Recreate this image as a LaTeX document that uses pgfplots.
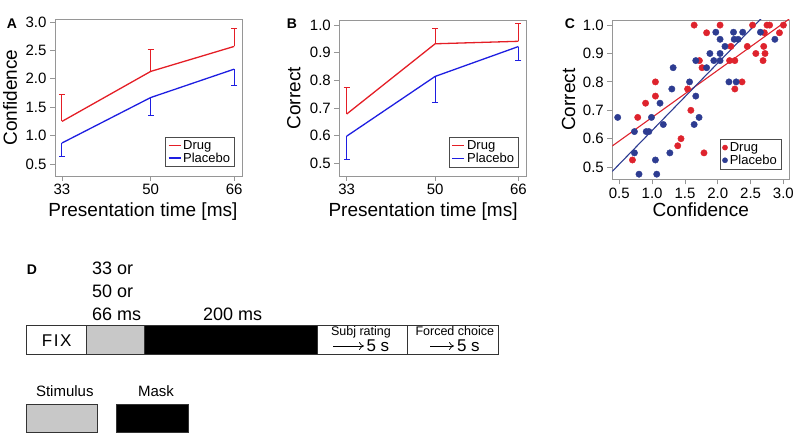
\documentclass[border=0pt]{standalone}
\usepackage{pgfplots}
\pgfplotsset{compat=1.18}
\usepackage{fontspec}
\setmainfont{Liberation Sans}
\usetikzlibrary{arrows.meta}

\definecolor{drugred}{RGB}{228,30,38}
\definecolor{plblue}{RGB}{30,30,225}
\definecolor{dotred}{RGB}{222,35,45}
\definecolor{dotblue}{RGB}{45,60,145}
\definecolor{framegray}{RGB}{150,150,150}
\definecolor{stimgray}{RGB}{200,200,200}

\pgfplotsset{
  panel/.style={
    scale only axis,
    anchor=south west,
    axis line style={framegray, line width=0.8pt},
    tick style={framegray, line width=0.8pt},
    major tick length=5pt,
    tick align=outside,
    xtick pos=bottom, ytick pos=left,
    ticklabel style={font=\fontsize{15}{17}\selectfont},
    yticklabel style={/pgf/number format/.cd, fixed, fixed zerofill, precision=1},
    /pgf/number format/assume math mode=true,
    label style={font=\fontsize{19}{21}\selectfont},
    legend style={font=\fontsize{13}{14}\selectfont, draw=none,
      inner xsep=2pt, inner ysep=1pt, row sep=-2pt},
    legend cell align=left,
  },
  dotpanel/.style={
    legend image code/.code={\fill[##1] (4pt,0pt) circle (2.6pt);},
  },
  druglegend/.style={legend image code/.code={\draw[draw=drugred, line width=1.3pt] (0pt,0pt) -- (12pt,0pt);}},
  pllegend/.style={legend image code/.code={\draw[draw=plblue, line width=1.3pt] (0pt,0pt) -- (12pt,0pt);}},
}

\begin{document}
\begin{tikzpicture}
\useasboundingbox (0,0) rectangle (797pt,435pt);

% panel A
\begin{axis}[panel, at={(55pt,259pt)}, width=187pt, height=157pt,
  xmin=31.66, xmax=67.5, ymin=0.289, ymax=3.053,
  xtick={33,50,66}, ytick={0.5,1.0,1.5,2.0,2.5,3.0},
  xlabel={Presentation time [ms]}, ylabel={Confidence},
  xlabel style={at={(axis description cs:0.47,0)}, anchor=base, yshift=-40.7pt},
  ylabel style={at={(axis description cs:-0.24,0.5)}, anchor=center},
  legend style={at={(0.959,0.059)}, anchor=south east, name=legA}]
\addplot[drugred, line width=1.3pt, mark=none, druglegend,
  error bars/.cd, y dir=plus, y explicit, error bar style={line width=1pt},
  error mark options={rotate=90, drugred, mark size=3pt, line width=1pt}]
  coordinates {(33,1.25) +- (0,0.47) (50,2.13) +- (0,0.39) (66,2.57) +- (0,0.32)};
\addlegendentry{Drug}
\addplot[plblue, line width=1.3pt, mark=none, pllegend,
  error bars/.cd, y dir=minus, y explicit, error bar style={line width=1pt},
  error mark options={rotate=90, plblue, mark size=3pt, line width=1pt}]
  coordinates {(33,0.87) +- (0,0.23) (50,1.67) +- (0,0.31) (66,2.17) +- (0,0.29)};
\addlegendentry{Placebo}
\end{axis}
\draw[black!70, line width=0.8pt] (legA.south west) rectangle (legA.north east);

% panel B
\begin{axis}[panel, at={(339.3pt,259pt)}, width=187.4pt, height=155.3pt,
  xmin=31.58, xmax=67.6, ymin=0.454, ymax=1.0155,
  xtick={33,50,66}, ytick={0.5,0.6,0.7,0.8,0.9,1.0},
  xlabel={Presentation time [ms]}, ylabel={Correct},
  xlabel style={at={(axis description cs:0.447,0)}, anchor=base, yshift=-40.7pt},
  ylabel style={at={(axis description cs:-0.242,0.5)}, anchor=center},
  legend style={at={(0.955,0.058)}, anchor=south east, name=legB}]
\addplot[drugred, line width=1.3pt, mark=none, druglegend,
  error bars/.cd, y dir=plus, y explicit, error bar style={line width=1pt},
  error mark options={rotate=90, drugred, mark size=3pt, line width=1pt}]
  coordinates {(33,0.678) +- (0,0.097) (50,0.932) +- (0,0.055) (66,0.941) +- (0,0.065)};
\addlegendentry{Drug}
\addplot[plblue, line width=1.3pt, mark=none, pllegend,
  error bars/.cd, y dir=minus, y explicit, error bar style={line width=1pt},
  error mark options={rotate=90, plblue, mark size=3pt, line width=1pt}]
  coordinates {(33,0.598) +- (0,0.083) (50,0.814) +- (0,0.094) (66,0.922) +- (0,0.052)};
\addlegendentry{Placebo}
\end{axis}
\draw[black!70, line width=0.8pt] (legB.south west) rectangle (legB.north east);

% panel C
\begin{axis}[panel, dotpanel, at={(612.3pt,255.7pt)}, width=177pt, height=159.3pt,
  xmin=0.393, xmax=3.09, ymin=0.457, ymax=1.018,
  xtick={0.5,1.0,1.5,2.0,2.5,3.0}, ytick={0.5,0.6,0.7,0.8,0.9,1.0},
  xticklabel style={/pgf/number format/.cd, fixed, fixed zerofill, precision=1},
  xlabel={Confidence}, ylabel={Correct},
  xlabel style={at={(axis description cs:0.5,0)}, anchor=base, yshift=-37.5pt},
  ylabel style={at={(axis description cs:-0.247,0.5)}, anchor=center},
  legend style={at={(0.953,0.065)}, anchor=south east, name=legC}]
\addplot[only marks, mark=*, mark size=3.2pt, dotred, mark options={draw=dotred, fill=dotred}] coordinates {
  (1.64,1.0) (2.035,1.0) (2.53,1.0) (2.75,1.0) (2.79,1.0) (3.0,1.0)
  (1.83,0.973) (2.71,0.973) (2.94,0.973)
  (2.20,0.925) (2.45,0.925) (2.70,0.925)
  (2.58,0.90) (2.72,0.90)
  (1.72,0.875) (2.18,0.875) (2.26,0.875) (2.69,0.875)
  (1.76,0.85)
  (1.05,0.80) (2.37,0.80)
  (1.54,0.775) (2.26,0.775)
  (1.05,0.75)
  (0.90,0.725)
  (1.59,0.70)
  (0.78,0.675)
  (1.44,0.60)
  (1.39,0.575)
  (1.79,0.55)
  (0.70,0.525)};
\addlegendentry{Drug}
\addplot[only marks, mark=*, mark size=3.2pt, dotblue, mark options={draw=dotblue, fill=dotblue}] coordinates {
  (1.97,0.975) (2.24,0.975) (2.38,0.975) (2.65,0.975)
  (2.035,0.95) (2.25,0.95) (2.31,0.95) (2.87,0.95)
  (2.11,0.925)
  (1.88,0.90) (2.035,0.90)
  (1.665,0.875) (1.94,0.875) (2.035,0.875)
  (1.32,0.85) (1.83,0.85)
  (1.57,0.80) (2.17,0.80) (2.28,0.80)
  (1.30,0.775)
  (1.665,0.75)
  (1.12,0.725)
  (0.475,0.675) (0.99,0.675) (1.715,0.675)
  (1.17,0.65) (1.64,0.65)
  (0.73,0.625) (0.91,0.625) (0.95,0.625)
  (0.73,0.55) (1.27,0.55)
  (1.05,0.525)
  (0.80,0.475) (1.07,0.475)};
\addlegendentry{Placebo}
\addplot[dotred, line width=1.1pt, forget plot] coordinates {(0.3,0.559) (3.2,1.040)};
\addplot[dotblue, line width=1.1pt, forget plot] coordinates {(0.3,0.463) (2.8,1.056)};
\end{axis}
\draw[black!70, line width=0.8pt] (legC.south west) rectangle (legC.north east);

% overlay in image pixels: panel letters and schematic D
\begin{axis}[at={(0pt,0pt)}, anchor=south west, scale only axis,
  width=797pt, height=435pt, xmin=0, xmax=797, ymin=0, ymax=435,
  y dir=reverse, hide axis, clip=false]
\node[font=\bfseries\fontsize{14}{14}\selectfont] at (axis cs:12,24) {A};
\node[font=\bfseries\fontsize{14}{14}\selectfont] at (axis cs:292,24) {B};
\node[font=\bfseries\fontsize{14}{14}\selectfont] at (axis cs:570,24) {C};
\node[font=\bfseries\fontsize{14}{14}\selectfont] at (axis cs:32,270) {D};
% trial boxes
\addplot[draw=black!80, line width=0.8pt, fill=white] coordinates {(26.7,325) (86.7,325) (86.7,354.3) (26.7,354.3)} -- cycle;
\addplot[draw=black!80, line width=0.8pt, fill=stimgray] coordinates {(86.7,325) (144,325) (144,354.3) (86.7,354.3)} -- cycle;
\addplot[draw=black!80, line width=0.8pt, fill=black] coordinates {(144,325) (317.3,325) (317.3,354.3) (144,354.3)} -- cycle;
\addplot[draw=black!80, line width=0.8pt, fill=white] coordinates {(317.3,325) (407.3,325) (407.3,354.3) (317.3,354.3)} -- cycle;
\addplot[draw=black!80, line width=0.8pt, fill=white] coordinates {(407.3,325) (498.3,325) (498.3,354.3) (407.3,354.3)} -- cycle;
% legend boxes
\addplot[draw=black!80, line width=0.8pt, fill=stimgray] coordinates {(26.7,404.3) (97.3,404.3) (97.3,432.3) (26.7,432.3)} -- cycle;
\addplot[draw=black!80, line width=0.8pt, fill=black] coordinates {(116.7,404.3) (188.3,404.3) (188.3,432.3) (116.7,432.3)} -- cycle;
% arrows
\addplot[black, line width=0.7pt, -{To[length=5pt,width=8pt]}] coordinates {(333,346) (364,346)};
\addplot[black, line width=0.7pt, -{To[length=5pt,width=8pt]}] coordinates {(430,346) (454,346)};
% texts
\node[anchor=base west, font=\fontsize{18}{18}\selectfont] at (axis cs:88.5,275) {33 or};
\node[anchor=base west, font=\fontsize{18}{18}\selectfont] at (axis cs:88.5,298) {50 or};
\node[anchor=base west, font=\fontsize{18}{18}\selectfont] at (axis cs:88.5,320.7) {66 ms};
\node[anchor=base west, font=\fontsize{18}{18}\selectfont] at (axis cs:199.5,320.7) {200 ms};
\node[anchor=base, font=\fontsize{17}{17}\selectfont] at (axis cs:56.7,346) {F\hspace{1.5pt}I\hspace{1.5pt}X};
\node[anchor=base west, font=\fontsize{12.5}{12.5}\selectfont] at (axis cs:327.5,335.5) {Subj rating};
\node[anchor=base west, font=\fontsize{17}{17}\selectfont] at (axis cs:363,351) {5 s};
\node[anchor=base west, font=\fontsize{12.5}{12.5}\selectfont] at (axis cs:412,335.5) {Forced choice};
\node[anchor=base west, font=\fontsize{17}{17}\selectfont] at (axis cs:453.5,351) {5 s};
\node[anchor=base west, font=\fontsize{15}{15}\selectfont] at (axis cs:32.5,396.7) {Stimulus};
\node[anchor=base west, font=\fontsize{15}{15}\selectfont] at (axis cs:134.5,396.7) {Mask};
\end{axis}
\end{tikzpicture}
\end{document}
